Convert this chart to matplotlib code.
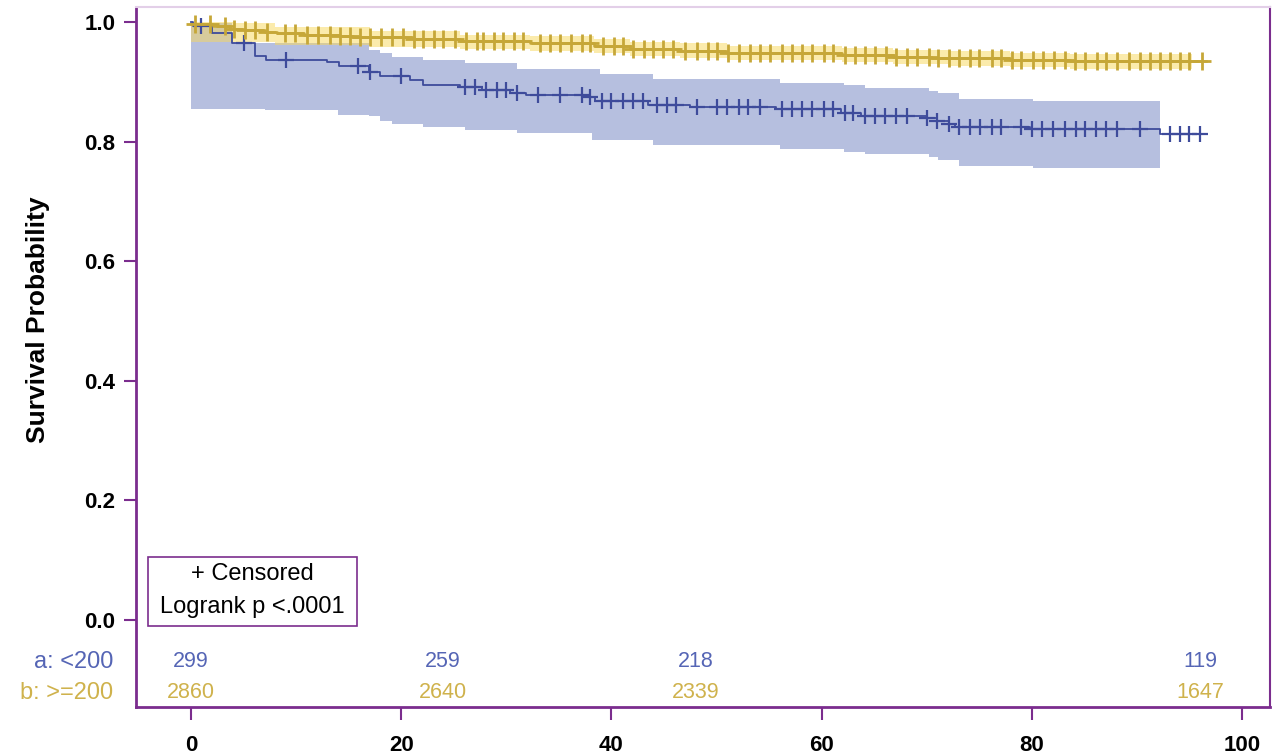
import numpy as np
import matplotlib
matplotlib.use("Agg")
import matplotlib.pyplot as plt
from matplotlib.patches import Rectangle

plt.rcParams['font.family'] = ['Liberation Sans', 'DejaVu Sans']

# group a: <200  (step times / survival after step)
a_t = [0, 0.2, 2.0, 3.9, 6.1, 7.1, 12.9, 14.1, 16.9, 18.0, 20.8, 22.1, 25.6, 27.7, 30.4,
       31.9, 38.0, 38.4, 43.5, 47.5, 55.7, 61.8, 63.7, 70.0, 71.0, 72.1, 72.7, 79.8, 92.2]
a_s = [1.0, 0.993, 0.982, 0.964, 0.943, 0.936, 0.933, 0.926, 0.917, 0.909, 0.903, 0.895, 0.891, 0.887, 0.882,
       0.878, 0.874, 0.868, 0.861, 0.857, 0.854, 0.848, 0.843, 0.839, 0.834, 0.830, 0.824, 0.821, 0.813]
a_end = 96.6
a_cens = [1.0, 5.0, 9.0, 15.9, 17.0, 20.0, 26.1, 27.0, 28.1, 29.1, 30.0, 31.0, 33.0, 35.1, 37.2, 38.0,
          39.1, 40.0, 41.1, 42.1, 43.0, 44.3, 45.3, 46.1, 48.1, 50.0, 51.0, 52.1, 53.0, 54.1, 56.2,
          57.2, 58.1, 59.1, 60.2, 61.1, 62.2, 63.0, 64.1, 65.1, 66.0, 67.1, 68.1, 70.0, 71.0, 72.1,
          73.1, 74.1, 75.1, 76.2, 77.1, 79.0, 80.0, 81.0, 82.0, 83.2, 84.2, 85.1, 86.1, 87.1, 88.1,
          90.3, 93.1, 94.1, 95.0, 96.0]
a_ci_t = [0, 3.9, 7.0, 14.0, 16.9, 18.0, 19.1, 22.1, 26.1, 31.0, 38.2, 38.9, 44.0, 56.0, 62.1,
          64.1, 70.2, 71.1, 73.1, 80.1]
a_ci_hi = [0.998, 0.965, 0.965, 0.965, 0.953, 0.948, 0.942, 0.936, 0.931, 0.921, 0.921, 0.913, 0.904,
           0.898, 0.895, 0.890, 0.884, 0.881, 0.871, 0.868]
a_ci_lo = [0.854, 0.854, 0.852, 0.844, 0.842, 0.835, 0.830, 0.824, 0.819, 0.814, 0.803, 0.803, 0.794,
           0.787, 0.783, 0.779, 0.775, 0.769, 0.759, 0.755]
a_ci_end = 92.2

# group b: >=200
b_t = [0, 2.1, 3.7, 5.1, 7.0, 8.2, 10.8, 14.2, 15.4, 21.2, 25.6, 32.3, 38.3, 41.8, 46.5,
       51.0, 61.9, 66.8, 70.5, 77.9, 83.6]
b_s = [0.997, 0.993, 0.989, 0.986, 0.983, 0.981, 0.979, 0.976, 0.974, 0.971, 0.968, 0.964, 0.960, 0.955,
       0.952, 0.948, 0.945, 0.941, 0.939, 0.936, 0.934]
b_end = 96.6
b_cens = [0.4, 1.8, 3.2, 4.1, 5.1, 6.1, 7.2, 8.9, 9.9, 11.0, 12.1, 13.2, 14.2, 15.1, 16.1, 17.0,
          18.1, 19.1, 20.2, 21.2, 22.1, 23.1, 24.0, 25.1, 26.2, 27.2, 27.8, 28.8, 29.7, 30.7, 31.6,
          33.2, 34.2, 35.1, 36.2, 37.2, 38.0, 39.2, 40.2, 41.1, 42.1, 43.1, 44.0, 44.9, 45.9, 47.0,
          48.1, 49.2, 50.0, 51.1, 52.1, 53.2, 54.1, 55.1, 56.2, 57.2, 58.1, 59.1, 60.2, 61.1, 62.2,
          63.2, 64.1, 65.1, 66.1, 67.1, 68.1, 69.1, 70.2, 71.1, 72.1, 73.1, 74.1, 75.0, 76.2, 77.1,
          78.1, 79.0, 80.1, 81.1, 82.1, 83.2, 84.1, 85.1, 86.2, 87.1, 88.1, 89.2, 90.3, 91.2, 92.2,
          93.1, 94.1, 95.0, 96.2]
b_ci_t = [0, 4, 8, 17, 25.6, 32.3, 38.3, 41.8, 46.5, 51.0, 61.9, 66.8, 72, 77.9, 83.6]
b_ci_hi = [1.0, 0.998, 0.991, 0.985, 0.979, 0.976, 0.972, 0.967, 0.964, 0.960, 0.957, 0.953, 0.951,
           0.948, 0.947]
b_ci_lo = [0.966, 0.966, 0.962, 0.958, 0.955, 0.952, 0.948, 0.943, 0.940, 0.936, 0.933, 0.929, 0.927,
           0.924, 0.921]
b_ci_end = 95.2

# numbers at risk
risk_t = [0, 24, 48, 96]
risk_a = [299, 259, 218, 119]
risk_b = [2860, 2640, 2339, 1647]

purple = '#7B2D8E'
blue_line, blue_fill, blue_txt = '#3E4B9B', '#6F80C0', '#5565B5'
gold_line, gold_fill, gold_txt = '#C6A738', '#F8D85A', '#CFB24C'

fig = plt.figure(figsize=(12.86, 7.54), dpi=100)
ax = fig.add_axes([136/1286, 1-707/754, (1270-136)/1286, 700/754])


def step_at(times, vals, x):
    idx = np.searchsorted(times, x, side='right') - 1
    return np.asarray(vals)[idx]


def draw_group(t, s, end, cens, ci_t, ci_lo, ci_hi, ci_end, lc, fc, lw, mew, ms):
    ct = list(ci_t) + [ci_end]
    ax.fill_between(ct, list(ci_lo) + [ci_lo[-1]], list(ci_hi) + [ci_hi[-1]],
                    step='post', color=fc, alpha=0.5, lw=0, zorder=1)
    ax.step(list(t) + [end], list(s) + [s[-1]], where='post', color=lc, lw=lw, zorder=3)
    ax.plot(cens, step_at(t, s, cens), ls='none', marker='+', ms=ms, mew=mew,
            color=lc, zorder=4)


draw_group(a_t, a_s, a_end, a_cens, a_ci_t, a_ci_lo, a_ci_hi, a_ci_end, blue_line, blue_fill,
           1.3, 1.6, 12)
draw_group(b_t, b_s, b_end, b_cens, b_ci_t, b_ci_lo, b_ci_hi, b_ci_end, gold_line, gold_fill,
           1.8, 2.0, 13)

ax.set_xlim(-5.23, 102.66)
ax.set_ylim(-0.1455, 1.025)
ax.set_xticks([0, 20, 40, 60, 80, 100])
ax.set_yticks([0.0, 0.2, 0.4, 0.6, 0.8, 1.0])
ax.set_yticklabels(['0.0', '0.2', '0.4', '0.6', '0.8', '1.0'])
ax.tick_params(direction='out', length=9, width=1.5, color=purple, labelsize=16, pad=6)
ax.tick_params(axis='x', pad=11)
for lab in ax.get_xticklabels() + ax.get_yticklabels():
    lab.set_fontweight('bold')

for side in ['left', 'bottom']:
    ax.spines[side].set_color(purple)
    ax.spines[side].set_linewidth(2)
ax.spines['right'].set_color(purple)
ax.spines['right'].set_linewidth(1.5)
ax.spines['top'].set_color('#E3CFE8')
ax.spines['top'].set_linewidth(1.5)

ax.set_ylabel('Survival Probability', fontsize=19, fontweight='bold')
ax.yaxis.set_label_coords(-0.076, 0.553)

# at-risk table
for x, n in zip(risk_t, risk_a):
    ax.text(x, -0.070, str(n), color=blue_txt, fontsize=15.5, ha='center', va='center')
for x, n in zip(risk_t, risk_b):
    ax.text(x, -0.122, str(n), color=gold_txt, fontsize=15.5, ha='center', va='center')
ax.text(-7.4, -0.070, 'a: <200', color=blue_txt, fontsize=17, ha='right', va='center', clip_on=False)
ax.text(-7.4, -0.122, 'b: >=200', color=gold_txt, fontsize=17, ha='right', va='center', clip_on=False)

# legend box
ax.add_patch(Rectangle((0.0106, 0.1157), 0.1843, 0.0986, transform=ax.transAxes,
                       fill=False, ec=purple, lw=1.2, zorder=5))
ax.text(0.1023, 0.190, '+ Censored', transform=ax.transAxes, fontsize=17, ha='center', va='center')
ax.text(0.1023, 0.143, 'Logrank p <.0001', transform=ax.transAxes, fontsize=17, ha='center', va='center')

fig.savefig('out.png', dpi=100)
